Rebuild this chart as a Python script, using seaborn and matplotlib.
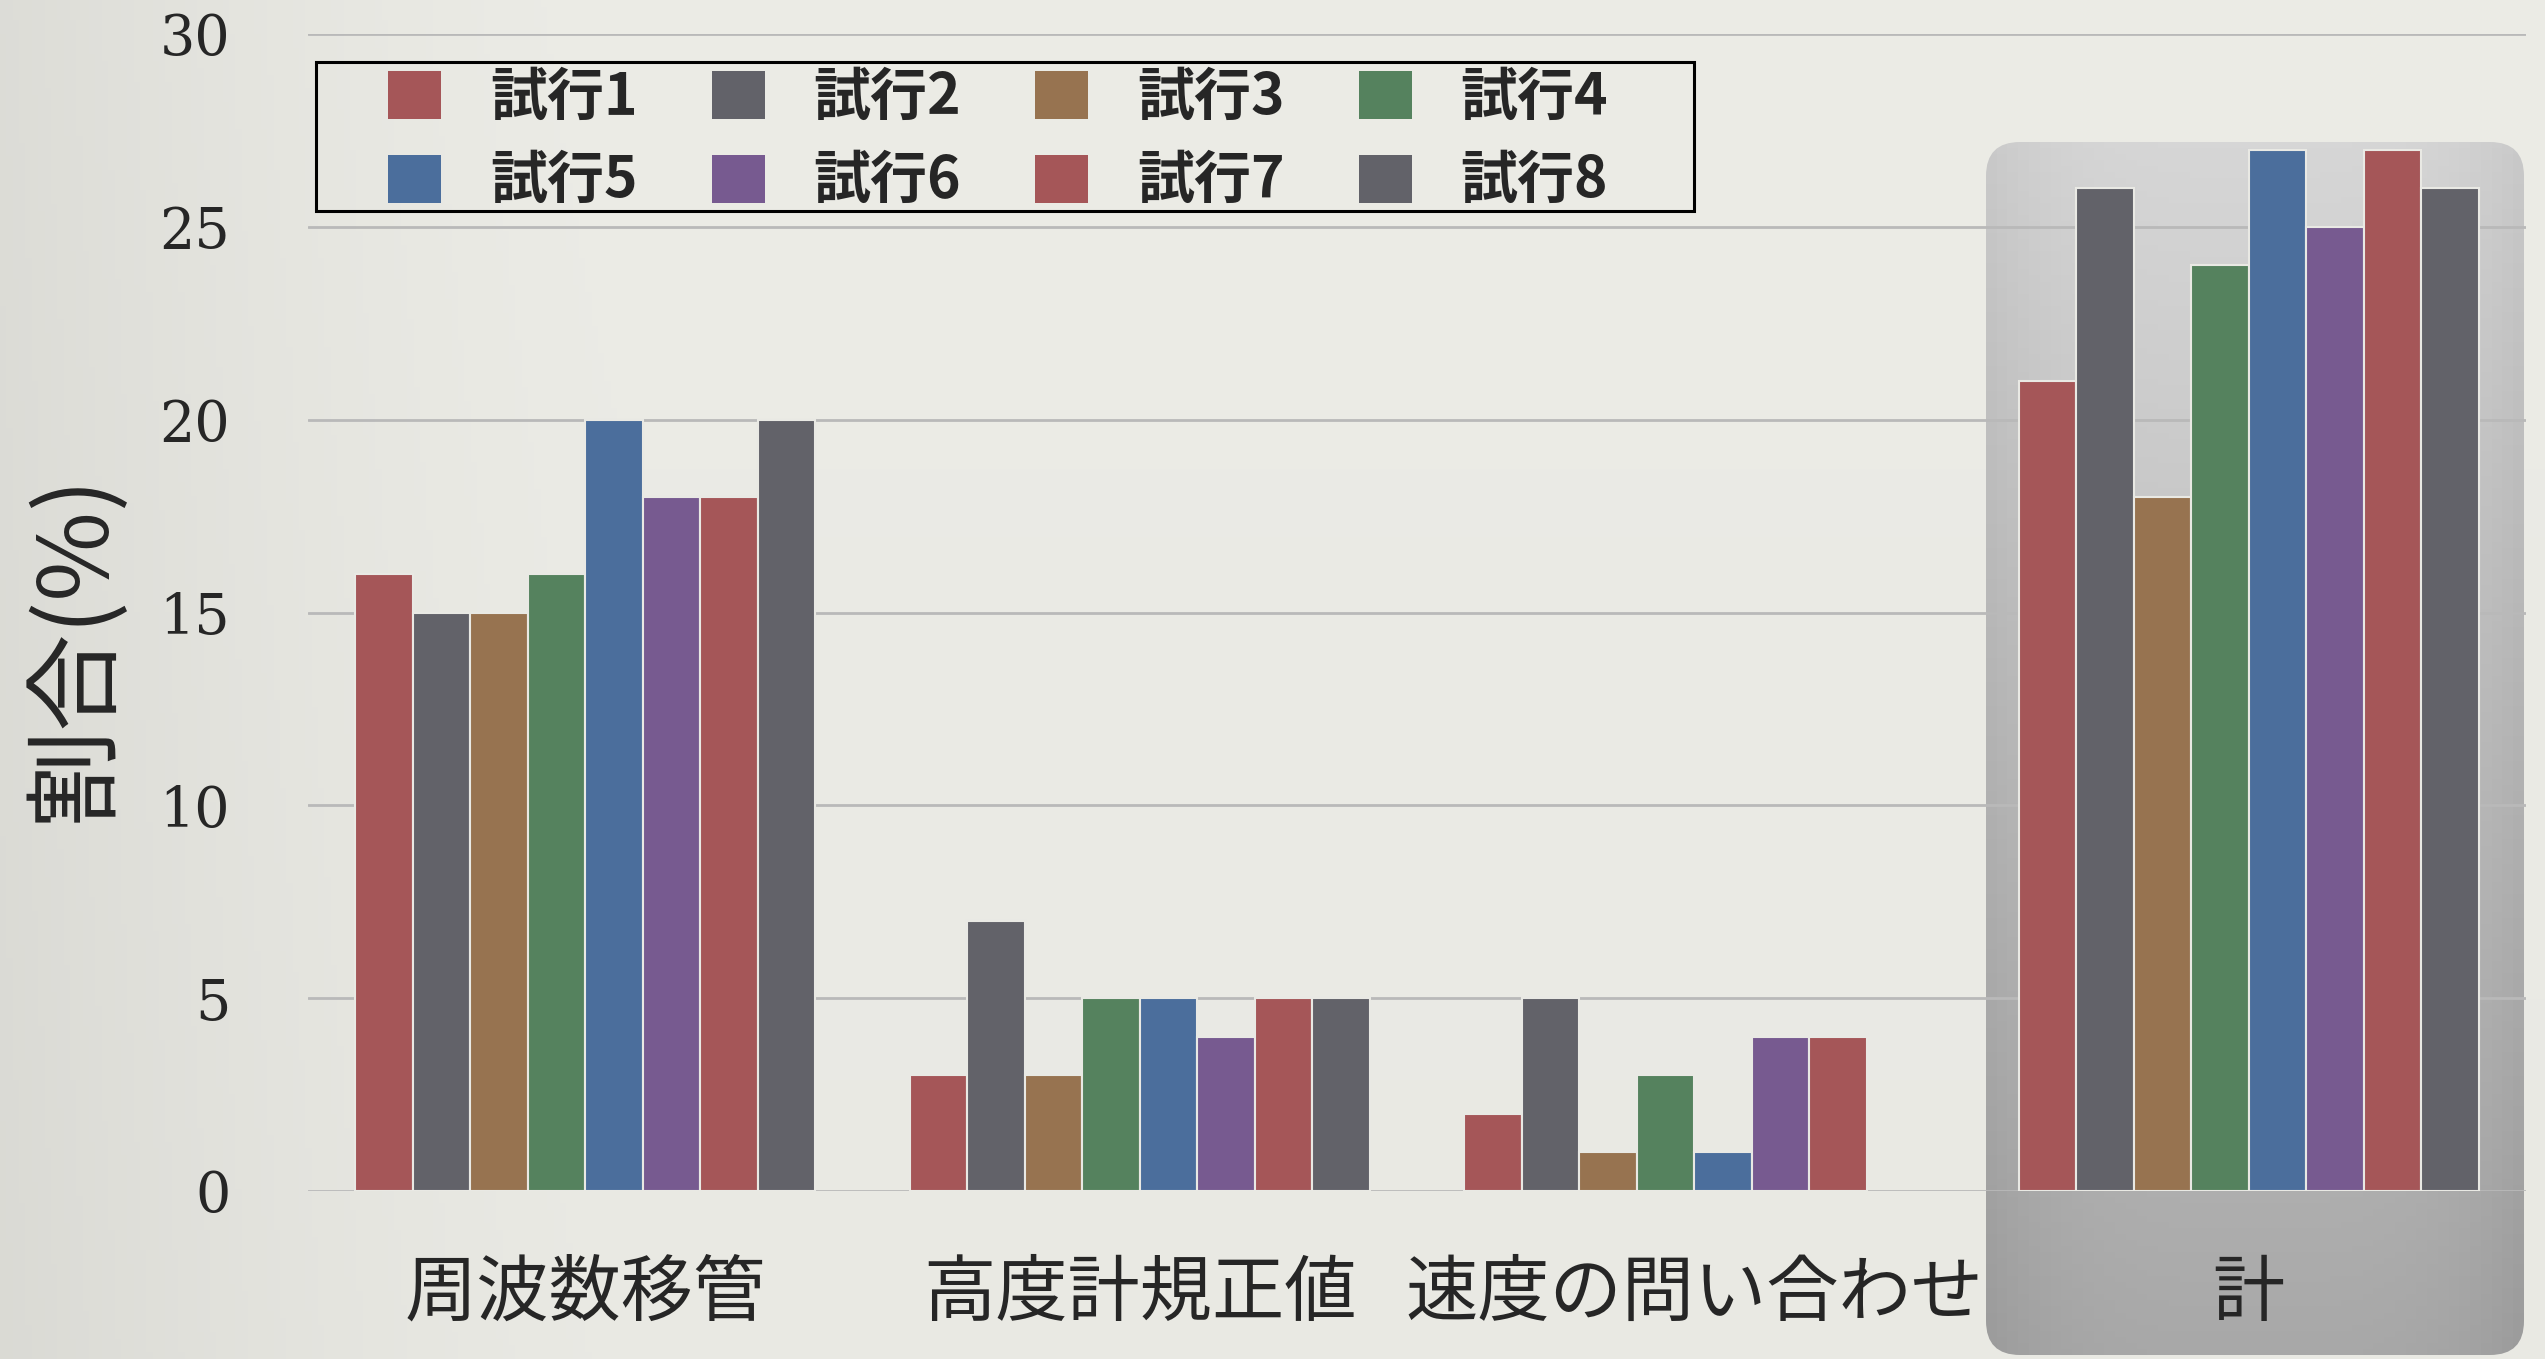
import numpy as np
import pandas as pd
import matplotlib
matplotlib.use("Agg")
import matplotlib.pyplot as plt
import seaborn as sns
from matplotlib.patches import FancyBboxPatch, Patch, Rectangle

categories = ["周波数移管", "高度計規正値", "速度の問い合わせ", "計"]
trials = ["試行1", "試行2", "試行3", "試行4", "試行5", "試行6", "試行7", "試行8"]
trial1 = [16, 3, 2, 21]
trial2 = [15, 7, 5, 26]
trial3 = [15, 3, 1, 18]
trial4 = [16, 5, 3, 24]
trial5 = [20, 5, 1, 27]
trial6 = [18, 4, 4, 25]
trial7 = [18, 5, 4, 27]
trial8 = [20, 5, np.nan, 26]
series = [trial1, trial2, trial3, trial4, trial5, trial6, trial7, trial8]
colors = ["#a55658", "#626269", "#977350", "#55825e", "#4b6e9c", "#775a90", "#a55658", "#626269"]
y_ticks = [0, 5, 10, 15, 20, 25, 30]

rows = []
for t, vals in zip(trials, series):
    for c, v in zip(categories, vals):
        rows.append({"category": c, "trial": t, "value": v})
df = pd.DataFrame(rows)

sns.set_style("white")
plt.rcParams["font.family"] = ["Noto Sans CJK JP", "DejaVu Sans"]

W, H = 2545, 1359
fig = plt.figure(figsize=(W / 100, H / 100), dpi=100)

# background
bg = fig.add_axes([0, 0, 1, 1], zorder=0)
bg.set_xlim(0, W)
bg.set_ylim(0, H)
bg.axis("off")
xx = np.linspace(0, 1, 400)
yy = np.linspace(0, 1, 200)
X, Y = np.meshgrid(xx, yy)
lum = 0.915 - 0.06 * np.clip(1 - X / 0.25, 0, 1) ** 1.5 + 0.01 * Y
img = np.dstack([lum, lum, lum * 0.975])
bg.imshow(img, extent=[0, W, 0, H], origin="lower", aspect="auto", zorder=0)

# highlighted box around 計
box = FancyBboxPatch((1986, 4), 2524 - 1986, H - 142 - 4,
                     boxstyle="round,pad=0,rounding_size=34",
                     facecolor="none", edgecolor="none")
bg.add_patch(box)
g = np.linspace(0, 1, 200)[:, None] * np.ones((1, 50))
gx = np.linspace(-1, 1, 50)[None, :]
val = 0.66 + 0.18 * g - 0.05 * gx ** 4
gimg = np.dstack([val, val, val])
im = bg.imshow(gimg, extent=[1986, 2524, 4, H - 142], origin="lower", aspect="auto", zorder=1)
im.set_clip_path(box)

# legend frame
bg.add_patch(Rectangle((316, H - 211), 1694 - 316, 211 - 62, facecolor="none",
                       edgecolor="black", lw=2.2, zorder=3))

ax = fig.add_axes([308 / W, 1 - 1191 / H, (2526 - 308) / W, (1191 - 34) / H], zorder=2)
ax.patch.set_alpha(0)

sns.barplot(data=df, x="category", y="value", hue="trial", order=categories,
            hue_order=trials, palette=colors, width=0.83, saturation=1,
            errorbar=None, ax=ax, edgecolor="#e9e9e4", linewidth=1.5, legend=False)

ax.set_xlim(-0.5, 3.5)
ax.set_ylim(0, 30)
ax.set_yticks(y_ticks)
ax.set_yticklabels([str(v) for v in y_ticks], family="DejaVu Serif", fontsize=40)
ax.yaxis.grid(True, color="#b9b9b9", lw=2)
ax.set_axisbelow(True)
for s in ax.spines.values():
    s.set_visible(False)
ax.tick_params(axis="y", length=0, pad=56)
ax.tick_params(axis="x", length=0, pad=48, labelsize=52)
ax.set_xlabel("")
ax.set_ylabel("割合(%)", fontsize=70)
ax.yaxis.set_label_coords(-0.082, 0.47)

handles = [Patch(facecolor=c, edgecolor="none") for c in colors]
order = [0, 4, 1, 5, 2, 6, 3, 7]
leg = fig.legend([handles[i] for i in order], [trials[i] for i in order],
                 ncol=4, loc="center left", bbox_to_anchor=(388 / W, 1 - 139.5 / H),
                 bbox_transform=fig.transFigure, borderaxespad=0, borderpad=0,
                 frameon=False, handlelength=0.93, handleheight=0.93,
                 handletextpad=0.86, columnspacing=1.3, labelspacing=0.45,
                 prop={"size": 41, "weight": "bold"})
leg.set_zorder(5)

fig.savefig("out.png", dpi=100)
